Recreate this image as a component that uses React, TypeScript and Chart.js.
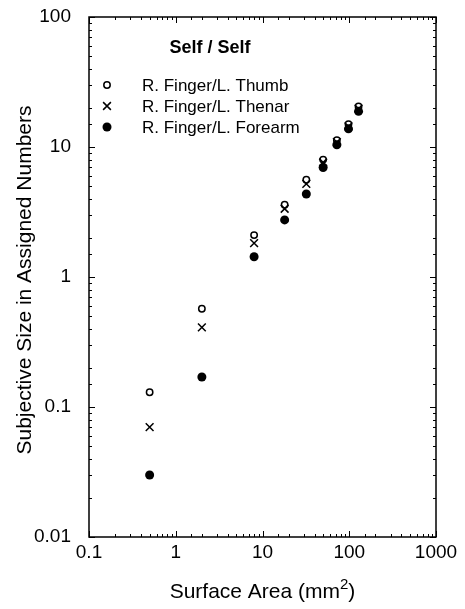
import React, { useEffect, useRef } from 'react';
import { Chart, registerables } from 'chart.js';

Chart.register(...registerables);

const surfaceArea = [0.5, 2, 8, 18, 32, 50, 72, 98, 128];
const thumbValues = [0.13, 0.57, 2.1, 3.6, 5.6, 8.0, 11.3, 15.0, 20.5];
const thenarValues = [0.07, 0.41, 1.82, 3.35, 5.2, 7.6, 10.9, 14.4, 19.7];
const forearmValues = [0.03, 0.17, 1.43, 2.75, 4.35, 6.95, 10.4, 13.8, 18.8];

const xTickLabels = ['0.1', '1', '10', '100', '1000'];
const yTickLabels = ['0.01', '0.1', '1', '10', '100'];
const seriesLabels = ['R. Finger/L. Thumb', 'R. Finger/L. Thenar', 'R. Finger/L. Forearm'];
const legendTitle = 'Self / Self';
const xTitleParts = ['Surface Area (mm', '2', ')'];
const yTitle = 'Subjective Size in Assigned Numbers';

const FONT = '"Liberation Sans", Arial, Helvetica, sans-serif';

const isPow10 = (v: number) => {
  const l = Math.log10(v);
  return Math.abs(l - Math.round(l)) < 1e-6;
};

const makeLabel = (labels: string[], minExp: number) => (value: any) => {
  const v = Number(value);
  if (!isPow10(v)) return '';
  const idx = Math.round(Math.log10(v)) - minExp;
  return labels[idx] ?? '';
};

const drawSymbol = (ctx: CanvasRenderingContext2D, kind: string, x: number, y: number) => {
  ctx.save();
  ctx.strokeStyle = '#000';
  ctx.fillStyle = '#000';
  if (kind === 'open') {
    ctx.lineWidth = 1.5;
    ctx.beginPath();
    ctx.arc(x, y, 3.2, 0, Math.PI * 2);
    ctx.stroke();
  } else if (kind === 'cross') {
    ctx.lineWidth = 1.5;
    const r = 5.5 * Math.SQRT1_2;
    ctx.beginPath();
    ctx.moveTo(x - r, y - r);
    ctx.lineTo(x + r, y + r);
    ctx.moveTo(x + r, y - r);
    ctx.lineTo(x - r, y + r);
    ctx.stroke();
  } else {
    ctx.beginPath();
    ctx.arc(x, y, 4.5, 0, Math.PI * 2);
    ctx.fill();
  }
  ctx.restore();
};

const decorPlugin = {
  id: 'decor',
  afterDraw(chart: any) {
    const { ctx, chartArea: a, scales } = chart;
    const xs = scales.x;
    const ys = scales.y;
    ctx.save();
    ctx.strokeStyle = '#000';
    ctx.lineWidth = 1;
    const line = (x1: number, y1: number, x2: number, y2: number) => {
      ctx.beginPath();
      ctx.moveTo(x1, y1);
      ctx.lineTo(x2, y2);
      ctx.stroke();
    };
    xs.ticks.forEach((t: any) => {
      const px = Math.round(xs.getPixelForValue(t.value)) + 0.5;
      const len = isPow10(t.value) ? 6 : 3;
      line(px, a.bottom, px, a.bottom - len);
      line(px, a.top, px, a.top + len);
    });
    ys.ticks.forEach((t: any) => {
      const py = Math.round(ys.getPixelForValue(t.value)) + 0.5;
      const len = isPow10(t.value) ? 6 : 3;
      line(a.left, py, a.left + len, py);
      line(a.right, py, a.right - len, py);
    });
    ctx.lineWidth = 1.5;
    ctx.strokeRect(a.left, a.top, a.right - a.left, a.bottom - a.top);

    // legend
    ctx.fillStyle = '#000';
    ctx.font = `bold 18px ${FONT}`;
    ctx.textAlign = 'center';
    ctx.textBaseline = 'middle';
    ctx.fillText(legendTitle, a.left + 121, a.top + 31);
    ctx.font = `17px ${FONT}`;
    ctx.textAlign = 'left';
    const kinds = ['open', 'cross', 'filled'];
    seriesLabels.forEach((lab, i) => {
      const y = a.top + 68 + i * 21;
      drawSymbol(ctx, kinds[i], a.left + 18, y);
      ctx.fillText(lab, a.left + 53, y + 1);
    });

    // x title with superscript
    ctx.textBaseline = 'alphabetic';
    const bigFont = `21px ${FONT}`;
    const smallFont = `15px ${FONT}`;
    ctx.font = bigFont;
    const w0 = ctx.measureText(xTitleParts[0]).width;
    const w2 = ctx.measureText(xTitleParts[2]).width;
    ctx.font = smallFont;
    const w1 = ctx.measureText(xTitleParts[1]).width;
    const total = w0 + w1 + w2;
    let x = (a.left + a.right) / 2 - total / 2;
    const base = a.bottom + 61;
    ctx.font = bigFont;
    ctx.fillText(xTitleParts[0], x, base);
    x += w0;
    ctx.font = smallFont;
    ctx.fillText(xTitleParts[1], x, base - 9);
    x += w1;
    ctx.font = bigFont;
    ctx.fillText(xTitleParts[2], x, base);

    // y title
    ctx.save();
    ctx.translate(a.left - 64, (a.top + a.bottom) / 2 + 3);
    ctx.rotate(-Math.PI / 2);
    ctx.textAlign = 'center';
    ctx.textBaseline = 'middle';
    ctx.font = `21px ${FONT}`;
    ctx.fillText(yTitle, 0, 0);
    ctx.restore();

    ctx.restore();
  },
};

export default function App() {
  const canvasRef = useRef<HTMLCanvasElement | null>(null);

  useEffect(() => {
    if (!canvasRef.current) return;
    const toPts = (vals: number[]) => surfaceArea.map((x, i) => ({ x, y: vals[i] }));
    const chart = new Chart(canvasRef.current, {
      type: 'scatter',
      data: {
        datasets: [
          {
            label: seriesLabels[0],
            data: toPts(thumbValues),
            pointStyle: 'circle',
            pointRadius: 3.2,
            backgroundColor: 'rgba(0,0,0,0)',
            borderColor: '#000',
            borderWidth: 1.5,
          },
          {
            label: seriesLabels[1],
            data: toPts(thenarValues),
            pointStyle: 'crossRot',
            pointRadius: 5.5,
            backgroundColor: '#000',
            borderColor: '#000',
            borderWidth: 1.5,
          },
          {
            label: seriesLabels[2],
            data: toPts(forearmValues),
            pointStyle: 'circle',
            pointRadius: 4.5,
            backgroundColor: '#000',
            borderColor: '#000',
            borderWidth: 0,
          },
        ],
      },
      options: {
        animation: false,
        responsive: false,
        maintainAspectRatio: false,
        devicePixelRatio: 1,
        layout: { padding: { top: 17, right: 29, left: 0, bottom: 0 } },
        plugins: {
          legend: { display: false },
          tooltip: { enabled: false },
          title: { display: false },
        },
        scales: {
          x: {
            type: 'logarithmic',
            min: 0.1,
            max: 1000,
            grid: { display: false, drawTicks: false },
            border: { display: false },
            ticks: {
              autoSkip: false,
              maxRotation: 0,
              minRotation: 0,
              padding: 4,
              color: '#000',
              font: { family: FONT, size: 19 },
              callback: makeLabel(xTickLabels, -1),
            },
            afterFit: (s: any) => {
              s.height = 72;
            },
          },
          y: {
            type: 'logarithmic',
            min: 0.01,
            max: 100,
            grid: {
              display: true,
              drawOnChartArea: false,
              drawTicks: true,
              tickLength: 18,
              color: 'rgba(0,0,0,0)',
            },
            border: { display: false },
            ticks: {
              autoSkip: false,
              padding: 0,
              color: '#000',
              font: { family: FONT, size: 19 },
              callback: makeLabel(yTickLabels, -2),
            },
            afterFit: (s: any) => {
              s.width = 89;
            },
          },
        },
      },
      plugins: [decorPlugin],
    });
    return () => chart.destroy();
  }, []);

  return (
    <div style={{ position: 'absolute', left: 0, top: 0, width: 465, height: 609, background: '#fff' }}>
      <canvas ref={canvasRef} width={465} height={609} style={{ display: 'block' }} />
    </div>
  );
}
